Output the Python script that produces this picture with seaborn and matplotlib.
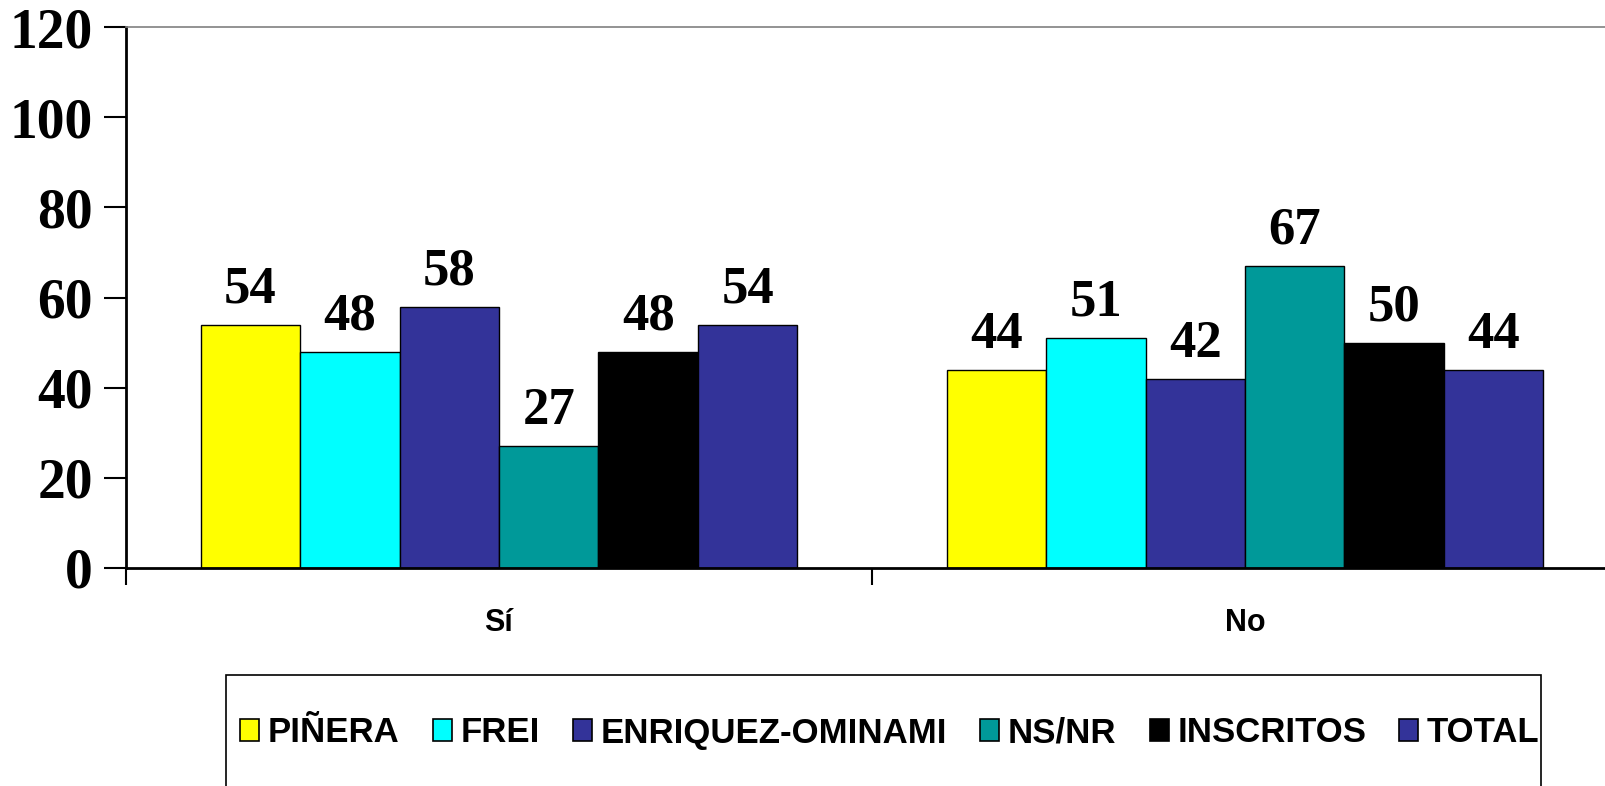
import matplotlib
matplotlib.use("Agg")
import matplotlib.pyplot as plt
from matplotlib.patches import Patch, Rectangle
from matplotlib.ticker import FixedLocator
import pandas as pd
import seaborn as sns

# data
categories = ["Sí", "No"]
series = ["PIÑERA", "FREI", "ENRIQUEZ-OMINAMI", "NS/NR", "INSCRITOS", "TOTAL"]
si_values = [54, 48, 58, 27, 48, 54]
no_values = [44, 51, 42, 67, 50, 44]
colors = ["#FFFF00", "#00FFFF", "#333399", "#009999", "#000000", "#333399"]
y_ticks = [0, 20, 40, 60, 80, 100, 120]

sns.set_theme(style="white")
plt.rcParams["font.family"] = ["Liberation Serif", "DejaVu Serif"]
plt.rcParams["text.color"] = "black"
plt.rcParams["xtick.color"] = "black"
plt.rcParams["ytick.color"] = "black"

rows = []
for s, a, b in zip(series, si_values, no_values):
    rows.append({"cat": categories[0], "serie": s, "val": a})
    rows.append({"cat": categories[1], "serie": s, "val": b})
df = pd.DataFrame(rows)
palette = dict(zip(series, colors))

fig = plt.figure(figsize=(16.06, 7.86), dpi=100)
ax = fig.add_axes([126 / 1606, 1 - 568 / 786, (1618 - 126) / 1606, (568 - 27) / 786])

sns.barplot(data=df, x="cat", y="val", hue="serie", order=categories,
            hue_order=series, palette=palette, edgecolor="black",
            linewidth=1, saturation=1, width=0.8, legend=False, ax=ax)

for cont in ax.containers:
    ax.bar_label(cont, fmt="%d", padding=8, fontsize=38, fontweight="bold",
                 color="black", family=["Liberation Serif", "DejaVu Serif"])

ax.set_ylim(0, 120)
ax.set_xlim(-0.5, 1.5)
ax.set_yticks(y_ticks)
ax.set_yticklabels([str(t) for t in y_ticks], fontsize=40, fontweight="bold")
ax.set_xlabel("")
ax.set_ylabel("")
ax.set_xticks([0, 1])
ax.set_xticklabels(categories, fontsize=22, fontweight="bold",
                   family=["Liberation Sans", "DejaVu Sans"])
ax.xaxis.set_minor_locator(FixedLocator([-0.5, 0.5, 1.5]))
ax.tick_params(axis="x", which="major", length=0, pad=29)
ax.tick_params(axis="x", which="minor", length=12, width=1.5,
               direction="out", bottom=True)
ax.tick_params(axis="y", length=16, width=1.5, direction="out",
               left=True, pad=8)
ax.grid(False)

for side in ["left", "bottom"]:
    ax.spines[side].set_color("black")
    ax.spines[side].set_linewidth(2)
for side in ["top", "right"]:
    ax.spines[side].set_color("#808080")
    ax.spines[side].set_linewidth(1.2)

# legend box runs off the bottom of the picture
fig.patches.append(Rectangle((226 / 1606, -0.05), (1541 - 226) / 1606, 0.05 + 111 / 786,
                             transform=fig.transFigure, fill=False,
                             edgecolor="black", linewidth=1.2))
handles = [Patch(facecolor=c, edgecolor="black", linewidth=1.2) for c in colors]
fig.legend(handles, series, loc="center", ncol=6,
           bbox_to_anchor=(890 / 1606, 1 - 733 / 786), frameon=False,
           handlelength=0.55, handleheight=0.6, handletextpad=0.25,
           columnspacing=0.95, borderaxespad=0,
           prop={"family": ["Liberation Sans", "DejaVu Sans"], "weight": "bold", "size": 25})

fig.savefig("out.png", dpi=100)
